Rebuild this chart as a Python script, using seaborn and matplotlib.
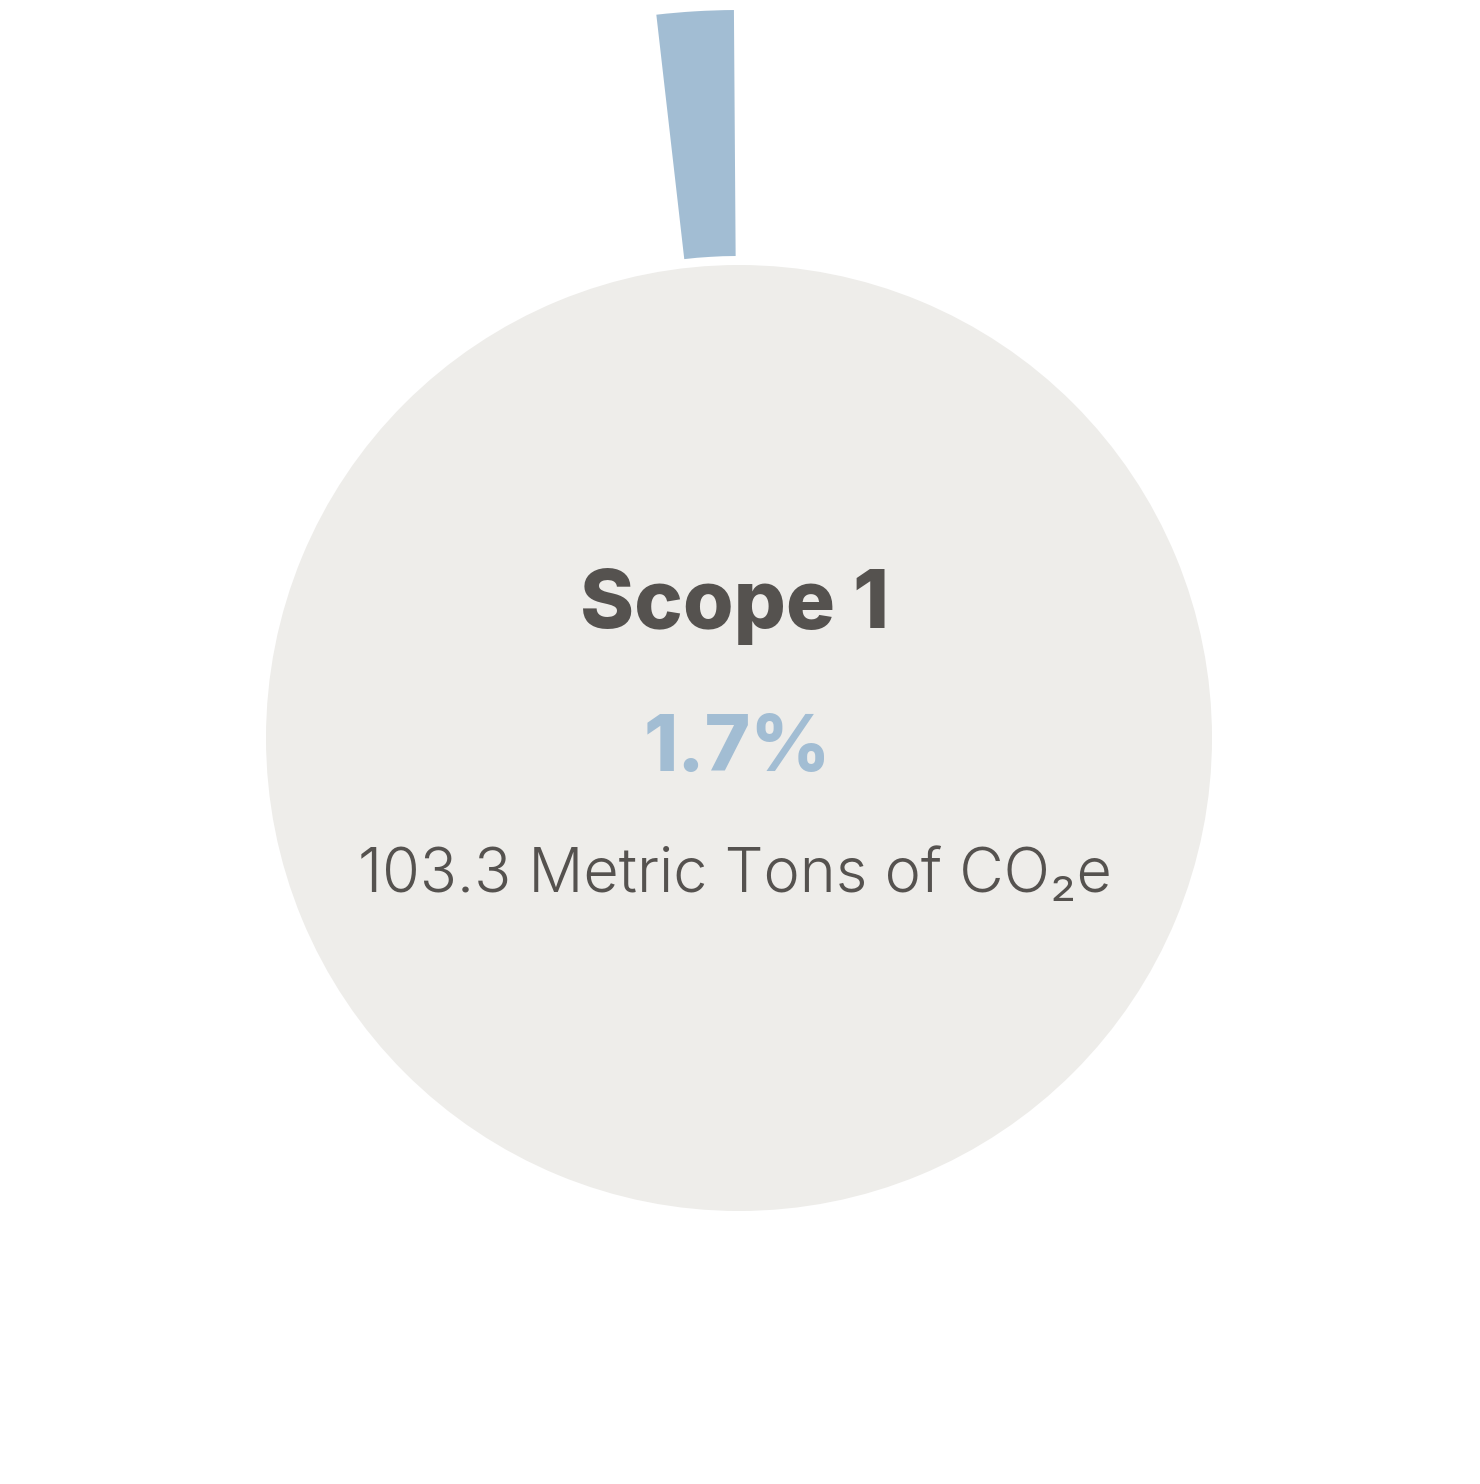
import matplotlib
matplotlib.use("Agg")
import matplotlib.pyplot as plt
import seaborn as sns

# Data
scopes = ["Scope 1", "Other scopes"]
shares = [1.7, 98.3]          # percent of total emissions
scope_tons = 103.3            # metric tons CO2e

sns.set_style("white")
plt.rcParams["font.family"] = ["Inter", "DejaVu Sans"]

BLUE = "#A2BDD3"
GREY = "#EEEDEA"
TEXT = "#55524F"

W, H = 1480, 1484
fig = plt.figure(figsize=(W / 100, H / 100), dpi=100)
ax = fig.add_axes([0, 0, 1, 1])

cx, cy = 739, H - 738

# outer ring: only the highlighted share is shown
ax.pie(shares, colors=[BLUE, "none"], startangle=90.4, counterclock=True,
       radius=728, center=(cx, cy), frame=True,
       wedgeprops=dict(width=246, linewidth=0))

# inner disc
ax.pie([1], colors=[GREY], radius=473, center=(cx, cy), frame=True,
       wedgeprops=dict(linewidth=0))

ax.set_xlim(0, W)
ax.set_ylim(0, H)
ax.set_aspect("equal")
ax.axis("off")

ax.text(735, H - 628, scopes[0], ha="center", va="baseline",
        fontsize=59, fontweight=800, color=TEXT)
ax.text(737, H - 771, f"{shares[0]}%", ha="center", va="baseline",
        fontsize=56, fontweight=800, color=BLUE)
ax.text(735, H - 892, f"{scope_tons} Metric Tons of CO\u2082e", ha="center",
        va="baseline", fontsize=44, fontweight=300, color=TEXT)

fig.savefig("out.png", dpi=100, facecolor="white")
